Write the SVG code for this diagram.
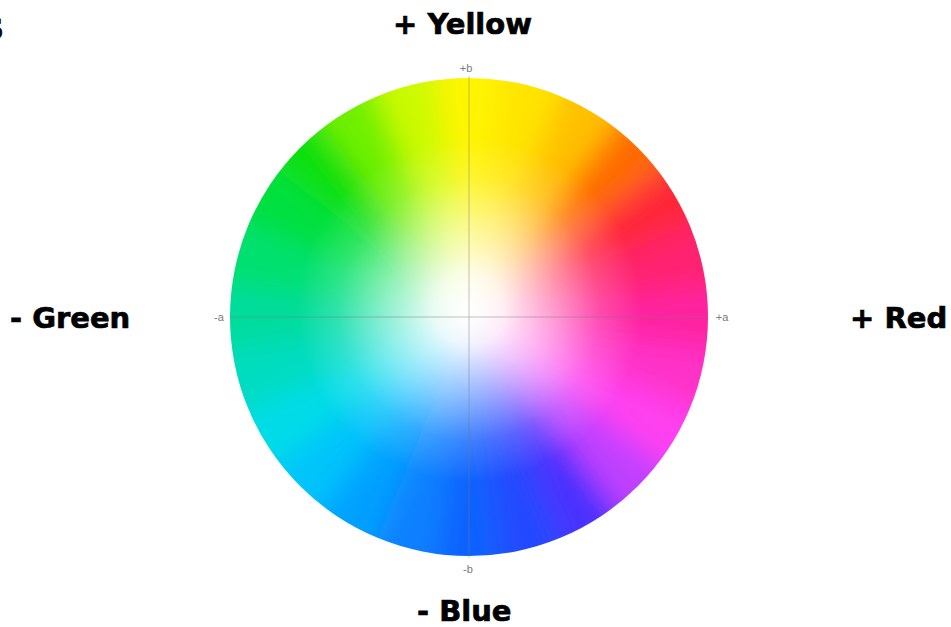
<svg xmlns="http://www.w3.org/2000/svg" width="951" height="627" viewBox="0 0 951 627">
<style>
.t{font-family:"DejaVu Sans","Liberation Sans",sans-serif;font-weight:bold;font-size:29px;fill:#000;stroke:#000;stroke-width:0.7}
.s{font-family:"Liberation Sans",Arial,sans-serif;font-size:11px;fill:#7a7a7a}
.ax{stroke:#7a7a7a;stroke-opacity:0.3;stroke-width:1.5;fill:none}
</style>
<defs>
<clipPath id="cc"><circle cx="469" cy="317" r="239"/></clipPath>
<filter id="bl" x="-20%" y="-20%" width="140%" height="140%"><feGaussianBlur stdDeviation="14"/></filter>
<radialGradient id="wh" cx="469" cy="310" r="239" gradientUnits="userSpaceOnUse">
<stop offset="0" stop-color="#fff" stop-opacity="1"/>
<stop offset="0.15" stop-color="#fff" stop-opacity="0.9"/>
<stop offset="0.35" stop-color="#fff" stop-opacity="0.55"/>
<stop offset="0.55" stop-color="#fff" stop-opacity="0.18"/>
<stop offset="0.72" stop-color="#fff" stop-opacity="0"/>
</radialGradient>
</defs>
<rect width="951" height="627" fill="#fff"/>
<text class="t" x="-17" y="39">S</text>
<g id="wheel">
<g clip-path="url(#cc)">
<g filter="url(#bl)">
<path d="M469 317L432.5 39.4L505.5 39.4Z" fill="#fff500"/>
<path d="M469 317L505.5 39.4L576.2 58.3Z" fill="#ffe400"/>
<path d="M469 317L576.2 58.3L639.5 94.8Z" fill="#ffc000"/>
<path d="M469 317L639.5 94.8L691.2 146.5Z" fill="#ff6a00"/>
<path d="M469 317L691.2 146.5L727.7 209.8Z" fill="#ff2838"/>
<path d="M469 317L727.7 209.8L746.6 280.5Z" fill="#ff2070"/>
<path d="M469 317L746.6 280.5L746.6 353.5Z" fill="#ff20a0"/>
<path d="M469 317L746.6 353.5L727.7 424.2Z" fill="#ff30c8"/>
<path d="M469 317L727.7 424.2L691.2 487.5Z" fill="#ff40f0"/>
<path d="M469 317L691.2 487.5L639.5 539.2Z" fill="#c040ff"/>
<path d="M469 317L639.5 539.2L576.2 575.7Z" fill="#4a30ff"/>
<path d="M469 317L576.2 575.7L505.5 594.6Z" fill="#2048ff"/>
<path d="M469 317L505.5 594.6L432.5 594.6Z" fill="#1062ff"/>
<path d="M469 317L432.5 594.6L361.8 575.7Z" fill="#0a80ff"/>
<path d="M469 317L361.8 575.7L298.5 539.2Z" fill="#00a0ff"/>
<path d="M469 317L298.5 539.2L246.8 487.5Z" fill="#00c4fa"/>
<path d="M469 317L246.8 487.5L210.3 424.2Z" fill="#00dce8"/>
<path d="M469 317L210.3 424.2L191.4 353.5Z" fill="#00dcc0"/>
<path d="M469 317L191.4 353.5L191.4 280.5Z" fill="#00dc9c"/>
<path d="M469 317L191.4 280.5L210.3 209.8Z" fill="#00e070"/>
<path d="M469 317L210.3 209.8L246.8 146.5Z" fill="#00e040"/>
<path d="M469 317L246.8 146.5L298.5 94.8Z" fill="#10e010"/>
<path d="M469 317L298.5 94.8L361.8 58.3Z" fill="#70f000"/>
<path d="M469 317L361.8 58.3L432.5 39.4Z" fill="#ccfa00"/>
</g>
<circle cx="469" cy="317" r="239" fill="url(#wh)"/>
</g>
</g>
<g id="axes">
<line class="ax" x1="230" y1="317" x2="708" y2="317"/>
<line class="ax" x1="469" y1="76" x2="469" y2="558"/>
</g>
<g id="axis-labels">
<text class="s" x="466" y="72" text-anchor="middle">+b</text>
<text class="s" x="468" y="573" text-anchor="middle">-b</text>
<text class="s" x="219" y="321" text-anchor="middle">-a</text>
<text class="s" x="722" y="321" text-anchor="middle">+a</text>
</g>
<g id="labels">
<text class="t" x="393" y="34">+ Yellow</text>
<text class="t" x="10" y="328">- Green</text>
<text class="t" x="850" y="328">+ Red</text>
<text class="t" x="417" y="621">- Blue</text>
</g>
</svg>
